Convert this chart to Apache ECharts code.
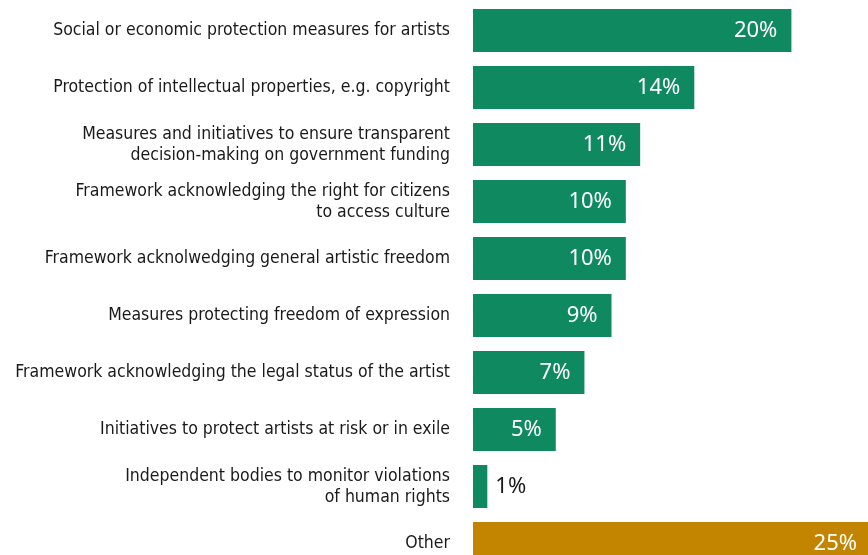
<!DOCTYPE html>
<html>
<head>
<meta charset="utf-8">
<script src="https://cdn.jsdelivr.net/npm/echarts@6/dist/echarts.min.js"></script>
<style>
  html, body { margin: 0; padding: 0; background: #fff; }
  #chart { width: 868px; height: 555px; }
</style>
</head>
<body>
<div id="chart"></div>
<script>
const categories = [
  'Social or economic protection measures for artists',
  'Protection of intellectual properties, e.g. copyright',
  'Measures and initiatives to ensure transparent\ndecision-making on government funding',
  'Framework acknowledging the right for citizens\nto access culture',
  'Framework acknolwedging general artistic freedom',
  'Measures protecting freedom of expression',
  'Framework acknowledging the legal status of the artist',
  'Initiatives to protect artists at risk or in exile',
  'Independent bodies to monitor violations\nof human rights',
  'Other'
]
// bar lengths as measured, labels as printed (rounded)
const values = [20, 13.9, 10.5, 9.6, 9.6, 8.7, 7.0, 5.2, 0.9, 25]
const valueLabels = ['20%', '14%', '11%', '10%', '10%', '9%', '7%', '5%', '1%', '25%']

const green = '#0f8a60'
const gold = '#c38400'

const chart = echarts.init(document.getElementById('chart'))

const seriesData = values.map((v, i) => {
  const item = { value: v }
  if (categories[i] === 'Other') item.itemStyle = { color: gold }
  if (v < 3) {
    item.label = { position: 'right', color: '#1a1a1a', distance: 8 }
  }
  return item
})

chart.setOption({
  animation: false,
  grid: { left: 473, right: -3, top: 2, bottom: -17, outerBoundsMode: 'none', containLabel: false },
  xAxis: {
    type: 'value',
    min: 0,
    max: 25,
    show: false
  },
  yAxis: {
    type: 'category',
    data: categories,
    inverse: true,
    axisLine: { show: false },
    axisTick: { show: false },
    axisLabel: {
      margin: 23,
      color: '#1a1a1a',
      fontFamily: '"Liberation Sans Narrow", "DejaVu Sans Condensed", sans-serif',
      fontSize: 17.5,
      lineHeight: 21,
      align: 'right'
    }
  },
  series: [{
    type: 'bar',
    data: seriesData,
    barWidth: 43,
    itemStyle: { color: green },
    label: {
      show: true,
      position: 'insideRight',
      distance: 14,
      color: '#fff',
      fontFamily: '"Noto Sans", sans-serif',
      fontSize: 22,
      formatter: p => valueLabels[p.dataIndex]
    }
  }]
})
</script>
</body>
</html>
